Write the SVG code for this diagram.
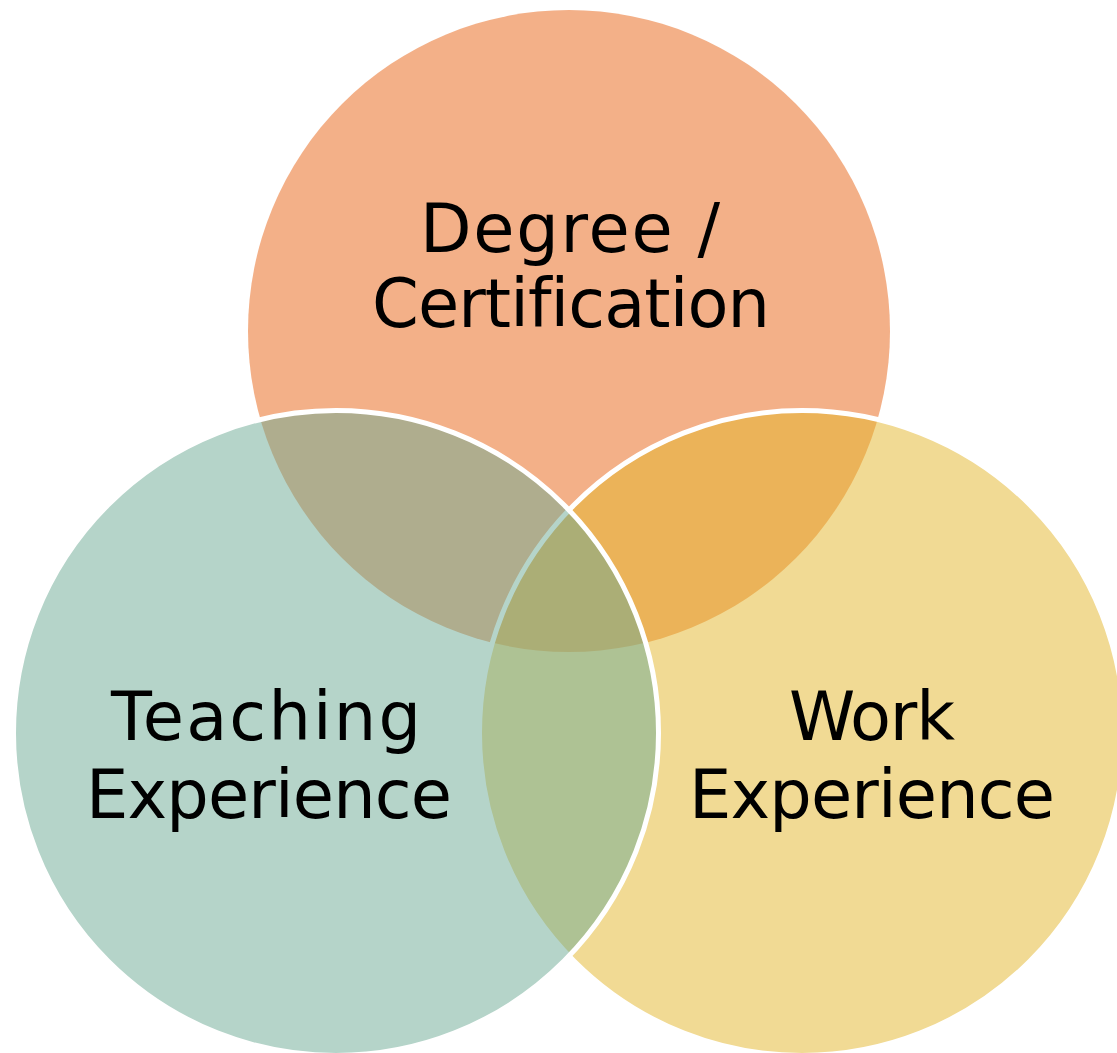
<svg xmlns="http://www.w3.org/2000/svg" width="1117" height="1053" viewBox="0 0 1117 1053">
  <style>
    .lbl { font-family: "DejaVu Sans", "Liberation Sans", sans-serif; font-size: 67px; fill: #000000; text-anchor: middle; font-variant-ligatures: none; }
    .c { fill-opacity: 0.5; }
    .edge { stroke: #FFFFFF; stroke-width: 5; }
  </style>
  <rect x="0" y="0" width="1117" height="1053" fill="#FFFFFF"/>
  <g id="node-degree">
    <circle class="c" cx="569" cy="331" r="321" fill="#E76111"/>
    <text class="lbl" x="570" y="252" textLength="300" lengthAdjust="spacing">Degree /</text>
    <text class="lbl" x="571" y="327" textLength="398" lengthAdjust="spacing">Certification</text>
  </g>
  <g id="node-work">
    <circle class="c edge" cx="802" cy="733" r="322.5" fill="#E3B529"/>
    <text class="lbl" x="872" y="740" textLength="166" lengthAdjust="spacing">Work</text>
    <text class="lbl" x="872" y="818" textLength="366" lengthAdjust="spacing">Experience</text>
  </g>
  <g id="node-teaching">
    <circle class="c edge" cx="336" cy="733" r="322.5" fill="#6BA993"/>
    <text class="lbl" x="266" y="740" textLength="310" lengthAdjust="spacing">Teaching</text>
    <text class="lbl" x="269" y="818" textLength="366" lengthAdjust="spacing">Experience</text>
  </g>
  <g id="connectors"/>
</svg>
